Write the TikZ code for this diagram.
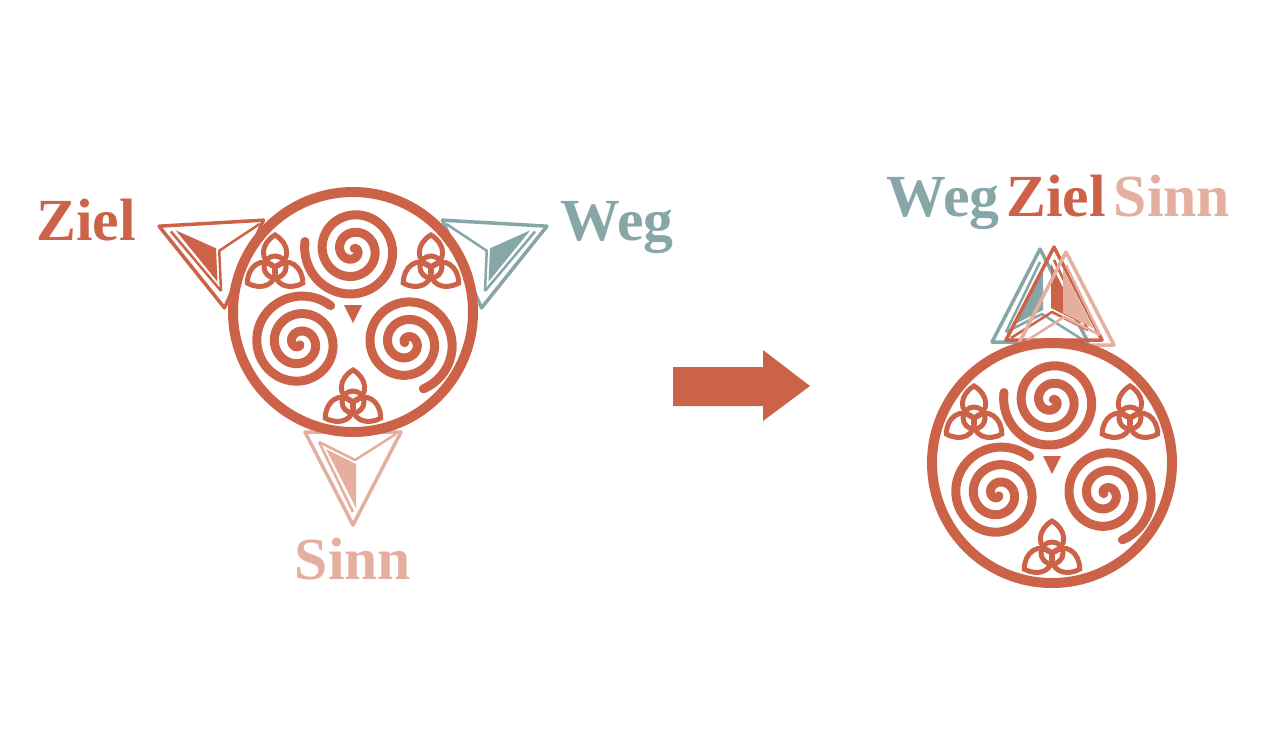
\documentclass[tikz,border=0pt]{standalone}
\usepackage{fontspec}
\setmainfont{Liberation Serif}
\definecolor{cr}{HTML}{CC6349}
\definecolor{ct}{HTML}{86A6A8}
\definecolor{cp}{HTML}{E5AFA0}
\tikzset{
 lbl/.style={font=\fontsize{34}{36}\selectfont\bfseries, inner sep=0pt, anchor=base},
 emblem/.pic={
  \draw[cr, line width=0.2cm] (0,0) circle[radius=120];
  \foreach \a in {-90,30,150}{
   \draw[cr, line width=0.18cm, line cap=round, shift={(\a:62)}, rotate=\a+180]
     plot[domain=40:1000,samples=140,smooth] ({\x/20.5*cos(\x)},{\x/20.5*sin(\x)});
  }
  \foreach \a in {90,210,330}{
   \begin{scope}[shift={(\a:90)}]
    \draw[cr, line width=0.1cm] (0,0) circle[radius=11];
    \foreach \b in {90,210,330}{
     \draw[cr, line width=0.1cm, rotate=\b, line join=miter] (0,0) .. controls (6,17) and (24,14) .. (32,0) .. controls (24,-14) and (6,-17) .. (0,0);
    }
   \end{scope}
  }
  \fill[cr] (-9,-7)--(9,-7)--(0,11)--cycle;
 },
 pointer/.pic={
  \draw[#1, line width=0.07cm, line join=round] (-48,0)--(48,0)--(0,93)--cycle;
  \draw[#1, line width=0.05cm, line join=round] (-34,10)--(2,28)--(43,2);
  \draw[#1, line width=0.05cm] (-34,10)--(0,80);
  \fill[#1] (-27,17)--(3,32)--(3,76)--cycle;
 }
}
\begin{document}
\begin{tikzpicture}[x=0.02cm,y=-0.02cm]
\useasboundingbox (0,0) rectangle (1270,755);
% left
\pic (pz) at (244,264) [rotate=246,xscale=-1] {pointer=cr};
\pic (pw) at (462,264) [rotate=114] {pointer=ct};
\pic (ps) at (353,432) {pointer=cp};
\pic (el) at (353,312) {emblem};
\node[lbl, text=cr] (ziel) at (86,240) {Ziel};
\node[lbl, text=ct] (weg) at (617,240) {Weg};
\node[lbl, text=cp] (sinn) at (353,579) {Sinn};
% arrow
\fill[cr] (673,367) -- (763,367) -- (763,350) -- (810,386) -- (763,421) -- (763,406) -- (673,406) -- cycle;
% right
\pic (rt) at (1040,342) [rotate=180,xscale=-1] {pointer=ct};
\pic (rr) at (1054,340) [rotate=180] {pointer=cr};
\pic (rp) at (1066,345) [rotate=180] {pointer=cp};
\pic (er) at (1052,463) {emblem};
\node[lbl, text=ct] (weg2) at (943,216) {Weg};
\node[lbl, text=cr] (ziel2) at (1056,216) {Ziel};
\node[lbl, text=cp] (sinn2) at (1172,216) {Sinn};
\end{tikzpicture}
\end{document}
